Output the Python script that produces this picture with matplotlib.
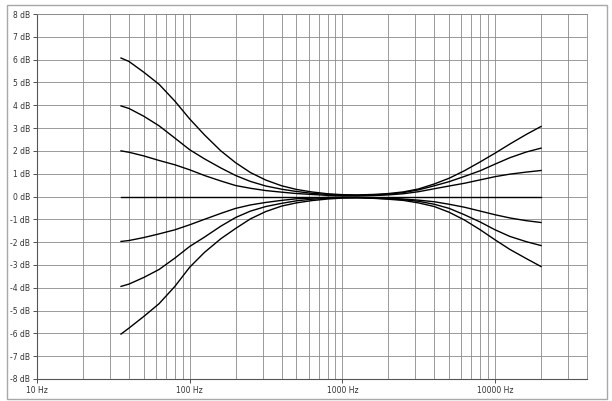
import matplotlib
matplotlib.use("Agg")
import matplotlib.pyplot as plt
from matplotlib.patches import Rectangle
from matplotlib.ticker import FixedLocator, NullFormatter

# frequences (Hz)
freqs = [35.5, 40, 50, 63, 80, 100, 125, 160, 200, 250, 315, 400, 500, 630,
         800, 1000, 1250, 1600, 2000, 2500, 3150, 4000, 5000, 6300, 8000,
         10000, 12500, 16000, 20000]

# gain (dB) de chaque courbe : grave / aigu
boost_6_3 = [6.07, 5.92, 5.45, 4.92, 4.18, 3.40, 2.70, 2.00, 1.48, 1.05, 0.72, 0.47, 0.31, 0.20,
             0.12, 0.08, 0.07, 0.09, 0.13, 0.20, 0.33, 0.55, 0.80, 1.13, 1.52,
             1.90, 2.30, 2.72, 3.07]
boost_4_2 = [3.97, 3.86, 3.52, 3.10, 2.56, 2.05, 1.65, 1.25, 0.92, 0.66, 0.46, 0.32, 0.22, 0.14,
             0.09, 0.06, 0.05, 0.07, 0.10, 0.17, 0.29, 0.47, 0.65, 0.88, 1.13,
             1.42, 1.70, 1.95, 2.12]
boost_2_1 = [2.00, 1.94, 1.78, 1.58, 1.39, 1.17, 0.92, 0.68, 0.48, 0.36, 0.26, 0.19, 0.13, 0.09,
             0.05, 0.03, 0.03, 0.04, 0.07, 0.12, 0.21, 0.34, 0.46, 0.58, 0.73,
             0.87, 0.98, 1.07, 1.14]
flat = [0.0] * len(freqs)
cut_2_1 = [-1.97, -1.93, -1.80, -1.64, -1.46, -1.24, -1.00, -0.74, -0.52, -0.37, -0.26, -0.17, -0.10, -0.07,
           -0.04, -0.03, -0.03, -0.05, -0.07, -0.11, -0.16, -0.23, -0.34, -0.47, -0.64,
           -0.80, -0.94, -1.06, -1.14]
cut_4_2 = [-3.94, -3.84, -3.55, -3.20, -2.70, -2.19, -1.78, -1.30, -0.92, -0.64, -0.44, -0.30, -0.19, -0.12,
           -0.08, -0.05, -0.05, -0.07, -0.10, -0.14, -0.21, -0.34, -0.52, -0.80, -1.12,
           -1.46, -1.75, -1.98, -2.15]
cut_6_3 = [-6.03, -5.77, -5.26, -4.70, -3.94, -3.10, -2.45, -1.85, -1.40, -0.98, -0.66, -0.42, -0.28, -0.18,
           -0.11, -0.07, -0.06, -0.08, -0.12, -0.17, -0.28, -0.44, -0.69, -1.03, -1.46,
           -1.90, -2.32, -2.72, -3.07]

courbes = [boost_6_3, boost_4_2, boost_2_1, flat, cut_2_1, cut_4_2, cut_6_3]

x_ticks = [10, 100, 1000, 10000]
x_labels = ["10 Hz", "100 Hz", "1000 Hz", "10000 Hz"]
y_ticks = list(range(-8, 9))
y_labels = [f"{v} dB" for v in y_ticks]

fig = plt.figure(figsize=(6.12, 4.01), dpi=100)
fig.patch.set_facecolor("white")
fig.patches.append(Rectangle((7 / 612, 2 / 401), 600 / 612, 394 / 401,
                             transform=fig.transFigure, fill=False,
                             edgecolor="#a8a8a8", linewidth=1.0))

ax = fig.add_axes([37 / 612, 22 / 401, 550 / 612, 365 / 401])
ax.set_xscale("log")
ax.set_xlim(10, 40000)
ax.set_ylim(-8, 8)

# grille : toutes les frequences de 20 Hz a 40 kHz
grille_x = [m * 10 ** e for e in range(1, 5) for m in range(1, 10)]
grille_x = [f for f in grille_x if 10 < f <= 40000]
for f in grille_x:
    ax.axvline(f, color="#8a8a8a", linewidth=0.6, zorder=1)
for v in y_ticks:
    ax.axhline(v, color="#8a8a8a", linewidth=0.6, zorder=1)

for c in courbes:
    ax.plot(freqs, c, color="black", linewidth=1.0, zorder=3,
            solid_joinstyle="round")

ax.xaxis.set_major_locator(FixedLocator(x_ticks))
ax.xaxis.set_minor_locator(FixedLocator([]))
ax.xaxis.set_minor_formatter(NullFormatter())
ax.set_xticklabels(x_labels)
ax.set_yticks(y_ticks)
ax.set_yticklabels(y_labels)
ax.tick_params(axis="both", labelsize=5.5, colors="#333333", length=3,
               width=0.6, pad=2)

for s in ["left", "bottom"]:
    ax.spines[s].set_color("#555555")
    ax.spines[s].set_linewidth(0.8)
for s in ["top", "right"]:
    ax.spines[s].set_color("#8a8a8a")
    ax.spines[s].set_linewidth(0.6)

fig.savefig("out.png", dpi=100)
